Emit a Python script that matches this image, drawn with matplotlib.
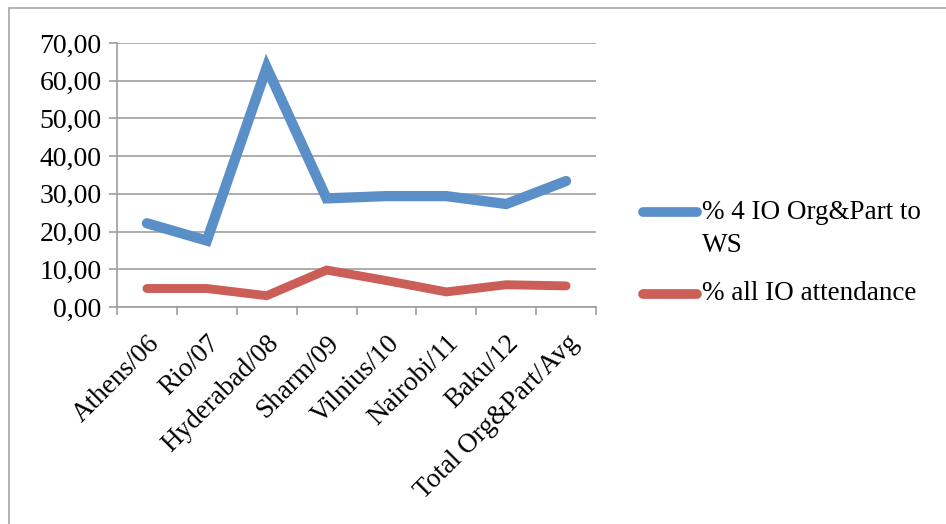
import matplotlib.pyplot as plt
from matplotlib.lines import Line2D
from matplotlib.patches import Rectangle
from matplotlib.ticker import FuncFormatter, FixedLocator

plt.rcParams['font.family'] = ['Liberation Serif', 'DejaVu Serif']

categories = ['Athens/06', 'Rio/07', 'Hyderabad/08', 'Sharm/09', 'Vilnius/10',
              'Nairobi/11', 'Baku/12', 'Total Org&Part/Avg']
io_org_part = [22.2, 17.6, 63.5, 28.8, 29.4, 29.4, 27.3, 33.4]
io_attendance = [4.9, 4.9, 3.0, 9.8, 7.0, 4.0, 5.9, 5.6]
labels = ['% 4 IO Org&Part to\nWS', '% all IO attendance']

blue = '#5B8FC7'
red = '#CB5F57'
grid = '#9E9E9E'

fig = plt.figure(figsize=(9.46, 5.24), dpi=100)
ax = fig.add_axes([117 / 946, 1 - 307 / 524, (596 - 117) / 946, (307 - 43) / 524])

x = list(range(len(categories)))
ax.plot(x, io_org_part, color=blue, lw=7.4, solid_capstyle='round', solid_joinstyle='miter')
ax.plot(x, io_attendance, color=red, lw=6.4, solid_capstyle='round', solid_joinstyle='miter')

ax.set_xlim(-0.5, len(categories) - 0.5)
ax.set_ylim(0, 70)
ax.set_yticks(range(0, 71, 10))
ax.yaxis.set_major_formatter(FuncFormatter(lambda v, p: f'{v:.2f}'.replace('.', ',')))
ax.grid(axis='y', color=grid, lw=1.2)
ax.set_axisbelow(True)

# category ticks sit between labels
ax.xaxis.set_major_locator(FixedLocator(x))
ax.xaxis.set_minor_locator(FixedLocator([i - 0.5 for i in range(len(categories) + 1)]))
ax.tick_params(axis='x', which='major', length=0, pad=17)
ax.tick_params(axis='x', which='minor', length=6, color=grid, width=1.2)
ax.tick_params(axis='y', length=6, color=grid, width=1.2, pad=5, labelsize=20)
ax.set_xticklabels(categories, rotation=45, ha='right', rotation_mode='anchor', fontsize=19.5)

for side in ['top', 'right']:
    ax.spines[side].set_visible(False)
for side in ['left', 'bottom']:
    ax.spines[side].set_color(grid)
    ax.spines[side].set_linewidth(1.2)

# legend drawn by hand so the line sits next to the first text line
for lab, col, ypx in [(labels[0], blue, 212), (labels[1], red, 294)]:
    yf = 1 - ypx / 524
    nlines = lab.count('\n') + 1
    fig.add_artist(Line2D([643 / 946, 697 / 946], [yf, yf], color=col, lw=7,
                          solid_capstyle='round', transform=fig.transFigure))
    fig.text(702 / 946, yf - (nlines - 1) * 17 / 524, lab, fontsize=19.5,
             va='center', ha='left', linespacing=1.4, transform=fig.transFigure)

fig.add_artist(Rectangle((9 / 946, -0.1), 1.2, 1 - 8 / 524 + 0.1, fill=False,
                         edgecolor='#A6A6A6', lw=1.2, transform=fig.transFigure))

fig.savefig('out.png', dpi=100, facecolor='white')
